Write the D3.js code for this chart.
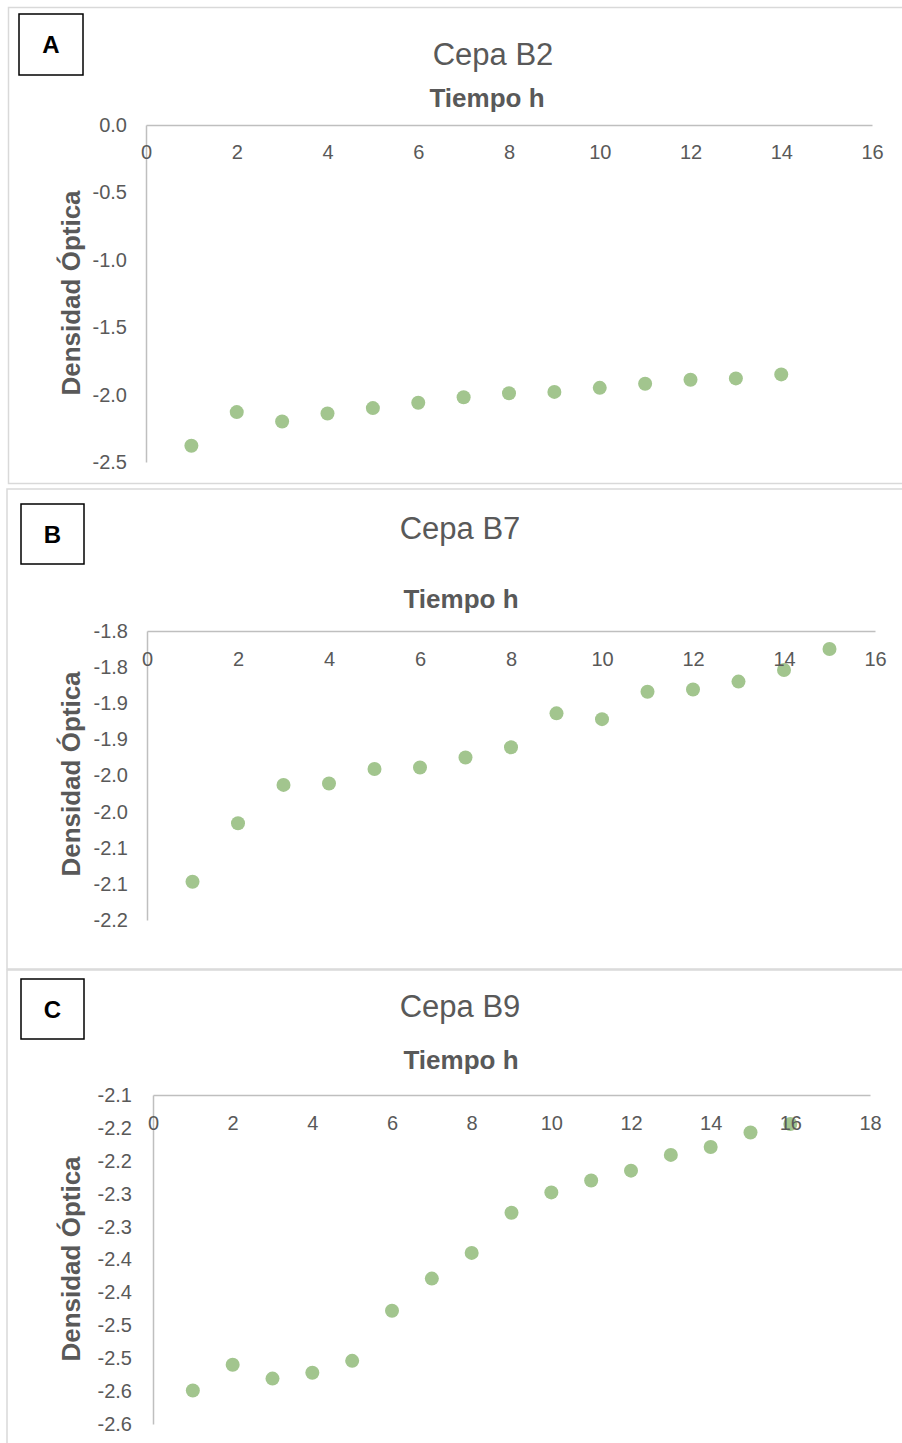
<!DOCTYPE html>
<html>
<head>
<meta charset="utf-8">
<script src="https://cdn.jsdelivr.net/npm/d3@7"></script>
<style>
  body { margin: 0; background: #fff; }
  text { font-family: "Liberation Sans", Arial, sans-serif; fill: #595959; }
  .axis path { stroke: #bfbfbf; stroke-width: 1.5; }
</style>
</head>
<body>
<svg width="902" height="1443"></svg>
<script>
// Cepa B2
var horasB2 = [1, 2, 3, 4, 5, 6, 7, 8, 9, 10, 11, 12, 13, 14];
var densidadB2 = [-2.38, -2.13, -2.20, -2.14, -2.10, -2.06, -2.02, -1.99, -1.98, -1.95, -1.92, -1.89, -1.88, -1.85];
var xTicksB2 = [0, 2, 4, 6, 8, 10, 12, 14, 16];
var yTicksB2 = [0, -0.5, -1, -1.5, -2, -2.5];
var yLabelsB2 = ["0.0", "-0.5", "-1.0", "-1.5", "-2.0", "-2.5"];

// Cepa B7
var horasB7 = [1, 2, 3, 4, 5, 6, 7, 8, 9, 10, 11, 12, 13, 14, 15];
var densidadB7 = [-2.097, -2.016, -1.963, -1.961, -1.941, -1.939, -1.925, -1.911, -1.864, -1.872, -1.834, -1.831, -1.820, -1.804, -1.775];
var xTicksB7 = [0, 2, 4, 6, 8, 10, 12, 14, 16];
var yTicksB7 = [-1.75, -1.8, -1.85, -1.9, -1.95, -2, -2.05, -2.1, -2.15];
var yLabelsB7 = ["-1.8", "-1.8", "-1.9", "-1.9", "-2.0", "-2.0", "-2.1", "-2.1", "-2.2"];

// Cepa B9
var horasB9 = [1, 2, 3, 4, 5, 6, 7, 8, 9, 10, 11, 12, 13, 14, 15, 16];
var densidadB9 = [-2.549, -2.510, -2.531, -2.522, -2.504, -2.428, -2.379, -2.340, -2.279, -2.248, -2.230, -2.215, -2.191, -2.179, -2.157, -2.144];
var xTicksB9 = [0, 2, 4, 6, 8, 10, 12, 14, 16, 18];
var yTicksB9 = [-2.1, -2.15, -2.2, -2.25, -2.3, -2.35, -2.4, -2.45, -2.5, -2.55, -2.6];
var yLabelsB9 = ["-2.1", "-2.2", "-2.2", "-2.3", "-2.3", "-2.4", "-2.4", "-2.5", "-2.5", "-2.6", "-2.6"];

var svg = d3.select('svg');
var green = "#a2c58e";

var panels = [
  {tag: "A", title: "Cepa B2", x: horasB2, y: densidadB2, xTicks: xTicksB2, yTicks: yTicksB2, yLabels: yLabelsB2,
   frame: [8.5, 7.5, 900, 476], box: [19, 14, 64, 61],
   xDomain: [0, 16], xRange: [146, 872], yDomain: [-2.5, 0], yRange: [462, 125], yPad: 19, xPad: 20,
   titleX: 493, titleY: 65, xTitleX: 487, xTitleY: 107, yTitleY: 293},
  {tag: "B", title: "Cepa B7", x: horasB7, y: densidadB7, xTicks: xTicksB7, yTicks: yTicksB7, yLabels: yLabelsB7,
   frame: [7, 489, 900, 480], box: [21, 504, 63, 60],
   xDomain: [0, 16], xRange: [147, 875], yDomain: [-2.15, -1.75], yRange: [920, 631], yPad: 19, xPad: 21,
   titleX: 460, titleY: 539, xTitleX: 461, xTitleY: 608, yTitleY: 774},
  {tag: "C", title: "Cepa B9", x: horasB9, y: densidadB9, xTicks: xTicksB9, yTicks: yTicksB9, yLabels: yLabelsB9,
   frame: [7, 970, 900, 500], box: [21, 979, 63, 60],
   xDomain: [0, 18], xRange: [153, 870], yDomain: [-2.6, -2.1], yRange: [1424, 1095], yPad: 21, xPad: 21,
   titleX: 460, titleY: 1017, xTitleX: 461, xTitleY: 1069, yTitleY: 1259}
];

panels.forEach(drawPanel);

function styleTicks(a) {
  a.selectAll('text')
    .style('font-family', '"Liberation Sans", Arial, sans-serif')
    .style('font-size', '20px')
    .style('fill', '#595959');
}

function drawPanel(p) {
  var g = svg.append('g');

  g.append('rect')
    .attr('x', p.frame[0]).attr('y', p.frame[1])
    .attr('width', p.frame[2]).attr('height', p.frame[3])
    .attr('fill', 'none').attr('stroke', '#d9d9d9').attr('stroke-width', 1.5);

  g.append('rect')
    .attr('x', p.box[0]).attr('y', p.box[1])
    .attr('width', p.box[2]).attr('height', p.box[3])
    .attr('fill', '#fff').attr('stroke', '#000').attr('stroke-width', 1.5);

  g.append('text')
    .attr('x', p.box[0] + p.box[2] / 2).attr('y', p.box[1] + 39)
    .attr('text-anchor', 'middle')
    .style('font-size', '24px').style('font-weight', 'bold').style('fill', '#000')
    .text(p.tag);

  var xScale = d3.scaleLinear().domain(p.xDomain).range(p.xRange);
  var yScale = d3.scaleLinear().domain(p.yDomain).range(p.yRange);

  // dots first, Excel paints axis labels on top
  g.selectAll('.dot')
    .data(p.x)
    .enter()
    .append('circle')
    .attr('class', 'dot')
    .attr('cx', d => xScale(d))
    .attr('cy', (d, i) => yScale(p.y[i]))
    .attr('r', 7)
    .attr('fill', green);

  g.append('g')
    .attr('class', 'axis')
    .attr('transform', 'translate(' + p.xRange[0] + ',0)')
    .call(d3.axisLeft(yScale).tickValues(p.yTicks).tickFormat((d, i) => p.yLabels[i]).tickSize(0).tickPadding(p.yPad))
    .call(styleTicks);

  g.append('g')
    .attr('class', 'axis')
    .attr('transform', 'translate(0,' + p.yRange[1] + ')')
    .call(d3.axisBottom(xScale).tickValues(p.xTicks).tickSize(0).tickPadding(p.xPad))
    .call(styleTicks);

  g.append('text')
    .attr('x', p.titleX).attr('y', p.titleY)
    .attr('text-anchor', 'middle')
    .style('font-size', '31px')
    .text(p.title);

  g.append('text')
    .attr('x', p.xTitleX).attr('y', p.xTitleY)
    .attr('text-anchor', 'middle')
    .style('font-size', '26px').style('font-weight', 'bold')
    .text("Tiempo h");

  g.append('text')
    .attr('transform', 'translate(' + [80, p.yTitleY] + ')rotate(-90)')
    .attr('text-anchor', 'middle')
    .style('font-size', '26px').style('font-weight', 'bold')
    .text("Densidad Óptica");
}
</script>
</body>
</html>
